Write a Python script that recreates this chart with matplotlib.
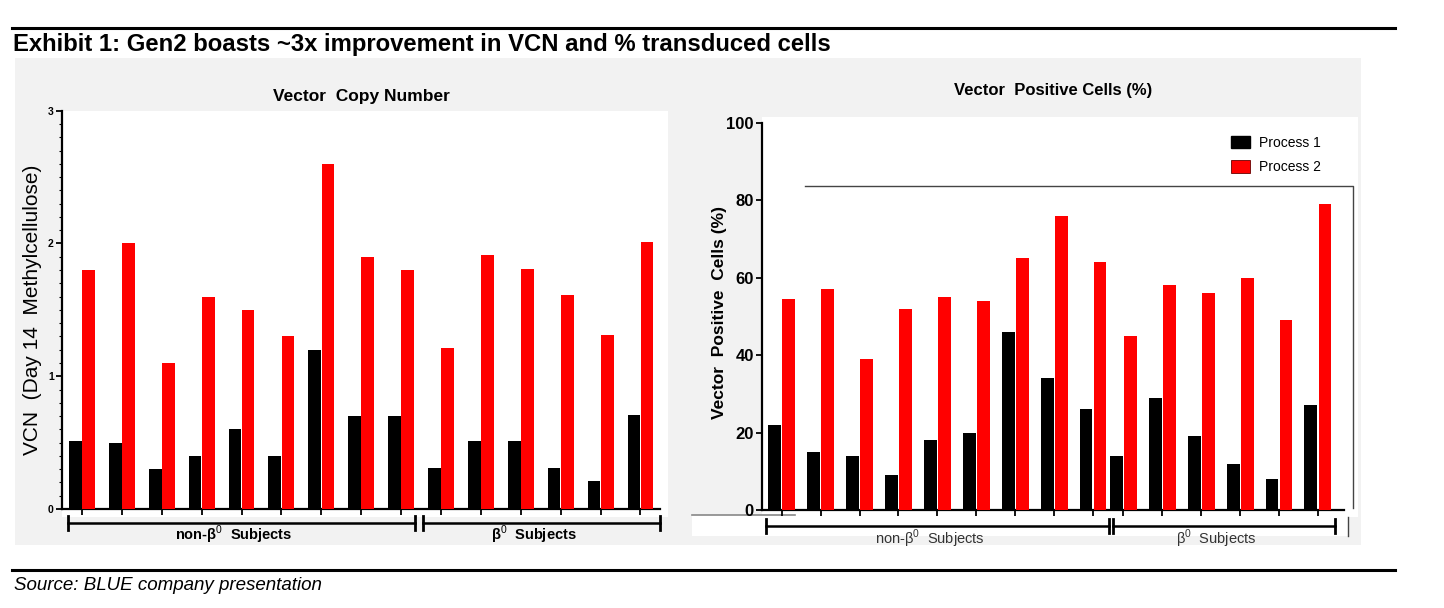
import matplotlib
matplotlib.use("Agg")
import matplotlib.pyplot as plt
import numpy as np
from matplotlib.patches import Rectangle, Patch
from matplotlib.lines import Line2D
from matplotlib.transforms import blended_transform_factory

plt.rcParams['font.family'] = ['Liberation Sans', 'DejaVu Sans']
plt.rcParams['mathtext.fontset'] = 'custom'
plt.rcParams['mathtext.rm'] = 'Liberation Sans'
plt.rcParams['mathtext.bf'] = 'Liberation Sans:bold'

# ---------------- data ----------------
title = "Exhibit 1: Gen2 boasts ~3x improvement in VCN and % transduced cells"
source = "Source: BLUE company presentation"
series_names = ["Process 1", "Process 2"]
group_labels = [r"non-β$^{\mathrm{0}}$  Subjects", r"β$^{\mathrm{0}}$  Subjects"]

# Vector Copy Number (left chart): 9 non-beta0 subjects, 6 beta0 subjects
vcn_p1_non = [0.51, 0.50, 0.30, 0.40, 0.60, 0.40, 1.20, 0.70, 0.70]
vcn_p2_non = [1.80, 2.00, 1.10, 1.60, 1.50, 1.30, 2.60, 1.90, 1.80]
vcn_p1_b0 = [0.31, 0.51, 0.51, 0.31, 0.21, 0.71]
vcn_p2_b0 = [1.21, 1.91, 1.81, 1.61, 1.31, 2.01]
vcn_yticks = [0, 1, 2, 3]

# Vector Positive Cells % (right chart)
vpc_p1_non = [22, 15, 14, 9, 18, 20, 46, 34, 26]
vpc_p2_non = [54.5, 57, 39, 52, 55, 54, 65, 76, 64]
vpc_p1_b0 = [14, 29, 19, 12, 8, 27]
vpc_p2_b0 = [45, 58, 56, 60, 49, 79]
vpc_yticks = [0, 20, 40, 60, 80, 100]

# ---------------- layout helpers ----------------
W, H = 1444, 608
fig = plt.figure(figsize=(W / 100, H / 100), dpi=100)
fig.patch.set_facecolor("white")

def fx(x):
    return x / W

def fy(y):
    return 1 - y / H

def frect(x0, y0, x1, y1, color, z=-10):
    fig.add_artist(Rectangle((fx(x0), fy(y1)), fx(x1) - fx(x0), fy(y0) - fy(y1),
                             transform=fig.transFigure, facecolor=color,
                             edgecolor="none", zorder=z))

def fline(xs, ys, color="black", lw=1.0, z=5):
    fig.add_artist(Line2D([fx(x) for x in xs], [fy(y) for y in ys],
                          transform=fig.transFigure, color=color, lw=lw, zorder=z))

RED = "#FF0000"
GREY = "#F2F2F2"

# rules + title + source
fline([12, 1395], [28, 28], lw=2.2)
fline([12, 1395], [570, 570], lw=2.2)
fig.text(fx(13), fy(45), title, fontsize=17.2, fontweight="bold", ha="left", va="center")
fig.text(fx(14), fy(585), source, fontsize=13.5, fontstyle="italic", ha="left", va="center")

# grey panel and white plot areas
frect(15, 58, 1361, 545, GREY)
frect(62, 111, 668, 517, "white", z=-9)
frect(762, 117, 1358, 517, "white", z=-9)
frect(692, 515, 1348, 536, "white", z=-9)
fline([692, 795], [515, 515], color="#888888", lw=1.2, z=-8)
# stray box outline in right chart
fline([805, 1353, 1353], [186, 186, 508], color="#444444", lw=1.0, z=-8)
fline([1348, 1348], [517, 536], color="#444444", lw=1.0, z=-8)


def draw_chart(ax, p1_non, p2_non, p1_b0, p2_b0, right_offset, width, off,
               ylim, yticks, ytick_fs, ytick_bold, minor, xlim, bracket_y, cap,
               br_left, br_right, label_bold, label_color, label_y, label_fs,
               axis_end):
    n_non = len(p1_non)
    x_non = np.arange(n_non)
    x_b0 = np.arange(len(p1_b0)) + n_non + right_offset
    xs = np.concatenate([x_non, x_b0])
    p1 = list(p1_non) + list(p1_b0)
    p2 = list(p2_non) + list(p2_b0)
    ax.bar(xs - off, p1, width=width, color="black", zorder=3, label=series_names[0])
    ax.bar(xs + off, p2, width=width, color=RED, zorder=3, label=series_names[1])
    ax.set_xlim(*xlim)
    ax.set_ylim(*ylim)
    ax.patch.set_visible(False)
    for s in ["top", "right"]:
        ax.spines[s].set_visible(False)
    ax.spines["left"].set_linewidth(1.6)
    ax.spines["bottom"].set_linewidth(1.6)
    ax.spines["bottom"].set_bounds(xlim[0], axis_end)
    ax.set_xticks(xs)
    ax.set_xticklabels([])
    ax.tick_params(axis="x", direction="out", length=4, width=1.3)
    ax.set_yticks(yticks)
    ax.set_yticklabels([str(t) for t in yticks], fontsize=ytick_fs,
                       fontweight="bold" if ytick_bold else "normal")
    ax.tick_params(axis="y", direction="out", length=4, width=1.3, pad=2)
    if minor:
        ax.set_yticks(np.arange(0, ylim[1] + 1e-9, minor), minor=True)
        ax.tick_params(axis="y", which="minor", length=2, width=0.8)
    # brackets
    tr = blended_transform_factory(ax.transData, fig.transFigure)
    yb = fy(bracket_y)
    yc0, yc1 = fy(bracket_y - cap), fy(bracket_y + cap)
    segs = [(x_non[0] - br_left[0], x_non[-1] + br_left[1]),
            (x_b0[0] - br_right[0], x_b0[-1] + br_right[1])]
    for (a, b), lab in zip(segs, group_labels):
        ax.add_line(Line2D([a, b], [yb, yb], transform=tr, color="black", lw=1.8,
                           clip_on=False))
        for xc in (a, b):
            ax.add_line(Line2D([xc, xc], [yc0, yc1], transform=tr, color="black",
                               lw=2.0, clip_on=False))
        ax.text((a + b) / 2 - 0.2, fy(label_y), lab, transform=tr, ha="center", va="center",
                fontsize=label_fs, fontweight="bold" if label_bold else "normal",
                color=label_color, clip_on=False)
    return xs


# ---------------- left chart ----------------
axL = fig.add_axes([fx(62), fy(509), fx(668) - fx(62), fy(110.7) - fy(509)])
draw_chart(axL, vcn_p1_non, vcn_p2_non, vcn_p1_b0, vcn_p2_b0, right_offset=0.0,
           width=0.32, off=0.165, ylim=(0, 3), yticks=vcn_yticks, ytick_fs=7.5,
           ytick_bold=True, minor=0.1, xlim=(-0.5, 14.69), bracket_y=523, cap=7,
           br_left=(0.35, 0.35), br_right=(0.45, 0.5), label_bold=True,
           label_color="black", label_y=535, label_fs=10.5, axis_end=14.5)
axL.set_ylabel("VCN  (Day 14  Methylcellulose)", fontsize=15)
axL.yaxis.set_label_coords(fx(42), 0.5, transform=blended_transform_factory(fig.transFigure, axL.transAxes))
fig.text(fx(361), fy(96), "Vector  Copy Number", fontsize=12.5, fontweight="bold",
         ha="center", va="center")

# ---------------- right chart ----------------
axR = fig.add_axes([fx(762), fy(510), fx(1358) - fx(762), fy(122.7) - fy(510)])
draw_chart(axR, vpc_p1_non, vpc_p2_non, vpc_p1_b0, vpc_p2_b0, right_offset=-0.22,
           width=0.33, off=0.18, ylim=(0, 100), yticks=vpc_yticks, ytick_fs=12,
           ytick_bold=True, minor=None, xlim=(-0.506, 14.81), bracket_y=526, cap=7,
           br_left=(0.40, 0.41), br_right=(0.27, 0.44), label_bold=False,
           label_color="#333333", label_y=539, label_fs=10.5, axis_end=14.45)
axR.set_ylabel("Vector  Positive  Cells (%)", fontsize=12.5, fontweight="bold")
axR.yaxis.set_label_coords(fx(727), 0.51, transform=blended_transform_factory(fig.transFigure, axR.transAxes))
fig.text(fx(1053), fy(91), "Vector  Positive Cells (%)", fontsize=12, fontweight="bold",
         ha="center", va="center")

handles = [Patch(facecolor="black", edgecolor="black"),
           Patch(facecolor=RED, edgecolor="#660000", linewidth=0.6)]
axR.legend(handles, series_names, loc="upper left", bbox_to_anchor=(fx(1231), fy(136)),
           bbox_transform=fig.transFigure, frameon=False, fontsize=10, borderpad=0,
           handlelength=1.4, handleheight=1.0, handletextpad=0.6, labelspacing=0.75,
           borderaxespad=0)

fig.savefig("out.png", dpi=100)
